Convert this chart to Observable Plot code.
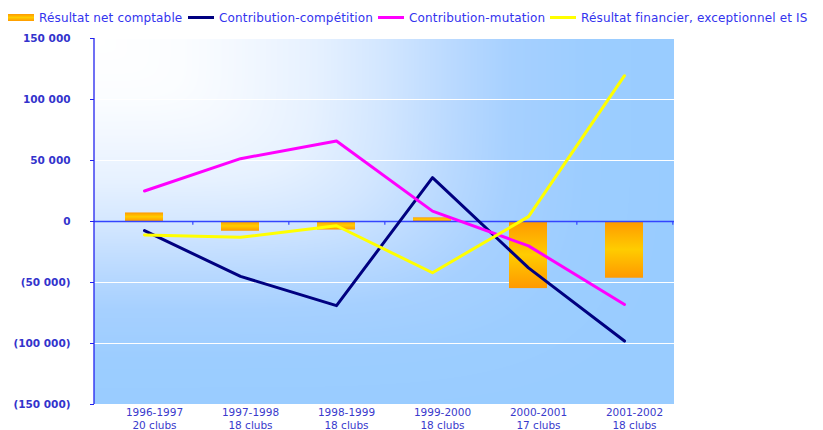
<!DOCTYPE html>
<html>
<head>
<meta charset="utf-8">
<script src="https://cdn.jsdelivr.net/npm/d3@7"></script>
<script src="https://cdn.jsdelivr.net/npm/@observablehq/plot@0.6"></script>
<style>
  body { margin: 0; background: #fff; }
  #wrap { position: relative; width: 823px; height: 430px; }
  #legend { position: absolute; left: 0; top: 0; width: 823px; height: 30px; font-family: "DejaVu Sans", sans-serif; font-size: 12px; letter-spacing: 0.15px; color: #3333ee; }
  .item { position: absolute; top: 10px; display: flex; align-items: center; white-space: nowrap; height: 15px; }
  .sw { width: 26px; margin-right: 5px; }
</style>
</head>
<body>
<div id="wrap">
  <div id="chart"></div>
  <div id="legend"></div>
</div>
<script>
const seasons = ["1996-1997", "1997-1998", "1998-1999", "1999-2000", "2000-2001", "2001-2002"];
const clubs = ["20 clubs", "18 clubs", "18 clubs", "18 clubs", "17 clubs", "18 clubs"];
const resultatNet = [7000, -8000, -7000, 3000, -55000, -46500];
const contribCompetition = [-7500, -45000, -69000, 36000, -38000, -98000];
const contribMutation = [25000, 51500, 66000, 8500, -20000, -68000];
const resultatFinancier = [-11000, -13000, -3500, -42000, 4000, 119500];
const yTicks = [-150000, -100000, -50000, 0, 50000, 100000, 150000];

const seriesNames = ["Résultat net comptable", "Contribution-compétition", "Contribution-mutation", "Résultat financier, exceptionnel et IS"];
const seriesColors = ["#ff9900", "#000080", "#ff00ff", "#ffff00"];

const lineData = [];
[contribCompetition, contribMutation, resultatFinancier].forEach((arr, k) => {
  arr.forEach((v, i) => lineData.push({season: seasons[i], value: v, series: seriesNames[k + 1]}));
});
const barData = seasons.map((s, i) => ({season: s, value: resultatNet[i]}));

const fmtNum = v => d3.format(",")(v).replace(/,/g, " ");
const yFmt = v => v < 0 ? `(${fmtNum(-v)})` : fmtNum(v);
const labelOf = new Map(seasons.map((s, i) => [s, s + "\n" + clubs[i]]));

const W = 823, H = 430;
const mL = 94, mR = 149, mT = 38, mB = 26;
const step = (W - mL - mR) / seasons.length;

// "from corner" background fill (soft rectangular contours from top-left corner)
const ramp = d3.scaleLinear()
  .domain([0, 0.15, 0.25, 0.38, 0.5, 0.62, 0.72, 0.85, 1])
  .range(["#ffffff", "#fbfdff", "#f3f8ff", "#e6f1ff", "#d2e6ff", "#b9d9ff", "#a6d0ff", "#9ccdff", "#99ccff"])
  .clamp(true);

function cornerBackground(index, scales, values, dims) {
  const w = Math.round(dims.width - dims.marginLeft - dims.marginRight);
  const h = Math.round(dims.height - dims.marginTop - dims.marginBottom);
  const canvas = document.createElement("canvas");
  canvas.width = w; canvas.height = h;
  const ctx = canvas.getContext("2d");
  const img = ctx.createImageData(w, h);
  const p = 5;
  for (let y = 0; y < h; y++) {
    for (let x = 0; x < w; x++) {
      const u = x / w, v = y / h * 0.97;
      const t = Math.pow(Math.pow(u, p) + Math.pow(v, p), 1 / p);
      const c = d3.rgb(ramp(t));
      const q = (y * w + x) * 4;
      img.data[q] = c.r; img.data[q + 1] = c.g; img.data[q + 2] = c.b; img.data[q + 3] = 255;
    }
  }
  ctx.putImageData(img, 0, 0);
  const el = d3.create("svg:image")
    .attr("x", dims.marginLeft).attr("y", dims.marginTop)
    .attr("width", w).attr("height", h)
    .attr("preserveAspectRatio", "none")
    .attr("href", canvas.toDataURL());
  return el.node();
}

const plot = Plot.plot({
  width: W, height: H,
  marginLeft: mL, marginRight: mR, marginTop: mT, marginBottom: mB,
  style: {background: "transparent", overflow: "visible"},
  x: {domain: seasons, paddingInner: 0.6, paddingOuter: 0.3, axis: null, label: null},
  y: {domain: [-150000, 150000], axis: null, label: null},
  marks: [
    cornerBackground,
    Plot.ruleY(yTicks.filter(d => d !== 0), {stroke: "#ffffff", strokeWidth: 1.2}),
    Plot.barY(barData, {x: "season", y: "value", fill: "url(#barGrad)"}),
    Plot.ruleY([0], {stroke: "#3344ff", strokeWidth: 1.6}),
    Plot.ruleX(seasons, {x: d => d, dx: step / 2, y1: 0, y2: -3000, stroke: "#3344ff", strokeWidth: 1.2}),
    (index, scales, values, dims) => {
      const g = d3.create("svg:g");
      g.append("line")
        .attr("x1", dims.marginLeft).attr("x2", dims.marginLeft)
        .attr("y1", dims.marginTop).attr("y2", dims.height - dims.marginBottom)
        .attr("stroke", "#2222ee").attr("stroke-width", 1.3);
      return g.node();
    },
    Plot.axisY({ticks: yTicks, tickFormat: yFmt, tickSize: 4, tickPadding: 20, stroke: "#2222ee", label: null,
      fill: "#3333cc", fontSize: 10.5, fontWeight: "bold", fontFamily: "DejaVu Sans, sans-serif"}),
    Plot.axisX({anchor: "bottom", tickSize: 0, tickPadding: 3, tickFormat: d => labelOf.get(d), dx: 10, label: null,
      fill: "#3a3acc", fontSize: 10.5, lineHeight: 1.2, fontFamily: "DejaVu Sans, sans-serif"}),
    Plot.line(lineData, {x: "season", y: "value", z: "series",
      stroke: d => seriesColors[seriesNames.indexOf(d.series)], strokeWidth: 3, strokeLinejoin: "round"})
  ]
});

const svg = d3.select(plot);
const defs = svg.insert("defs", ":first-child");
const bar = defs.append("linearGradient").attr("id", "barGrad")
  .attr("x1", 0).attr("y1", 0).attr("x2", 0).attr("y2", 1);
bar.append("stop").attr("offset", 0).attr("stop-color", "#ff9900");
bar.append("stop").attr("offset", 0.5).attr("stop-color", "#ffcc00");
bar.append("stop").attr("offset", 1).attr("stop-color", "#ff9900");

document.getElementById("chart").appendChild(plot);

// legend
const legendX = [8, 188, 378, 550];
const legend = d3.select("#legend");
seriesNames.forEach((name, k) => {
  const it = legend.append("div").attr("class", "item").style("left", legendX[k] + "px");
  const sw = it.append("div").attr("class", "sw");
  if (k === 0) {
    sw.style("height", "7px").style("background", "linear-gradient(#ff9900, #ffcc00 50%, #ff9900)");
  } else {
    sw.style("height", "3px").style("background", seriesColors[k]);
  }
  it.append("span").text(name);
});
</script>
</body>
</html>
